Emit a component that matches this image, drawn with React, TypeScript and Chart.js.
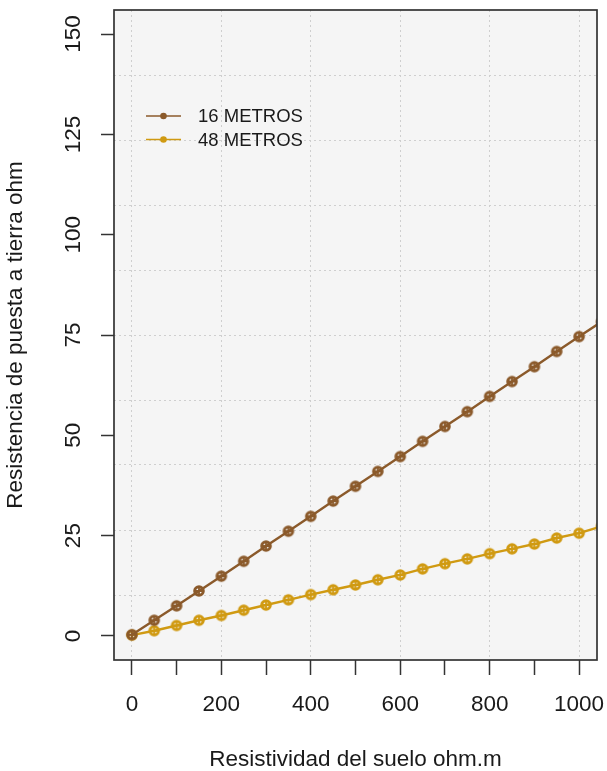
import React, { useEffect, useRef } from "react";
import { Chart, registerables } from "chart.js";

Chart.register(...registerables);

// ---- data ----
const resistivity = [0, 50, 100, 150, 200, 250, 300, 350, 400, 450, 500, 550, 600, 650, 700, 750, 800, 850, 900, 950, 1000, 1050];
const r16 = [0.3, 3.9, 7.5, 11.2, 14.9, 18.6, 22.4, 26.1, 29.8, 33.6, 37.3, 41.0, 44.7, 48.5, 52.2, 55.9, 59.7, 63.4, 67.1, 70.9, 74.6, 78.3];
const r48 = [0.2, 1.3, 2.6, 3.9, 5.1, 6.4, 7.7, 9.0, 10.3, 11.5, 12.7, 14.0, 15.2, 16.7, 18.0, 19.2, 20.5, 21.7, 22.9, 24.4, 25.6, 27.3];
const seriesLabels = ["16 METROS", "48 METROS"];
const seriesColors = ["#8B5A2B", "#D09A12"];
const xTickValues = [0, 100, 200, 300, 400, 500, 600, 700, 800, 900, 1000];
const xLabelStep = 200;
const yTickValues = [0, 25, 50, 75, 100, 125, 150];
const xRange = [-40, 1040];
const yRange = [-6, 156];
const yGridDivisions = 10;
const xTitle = "Resistividad del suelo ohm.m";
const yTitle = "Resistencia de puesta a tierra ohm";

const FONT = "'Liberation Sans', Arial, sans-serif";
const TEXT = "#1a1a1a";
const GRID = "#cfcfcf";
const AXIS = "#333333";

function makeMarker(color: string): HTMLCanvasElement {
  const c = document.createElement("canvas");
  c.width = 16;
  c.height = 16;
  const g = c.getContext("2d")!;
  g.strokeStyle = color;
  g.lineWidth = 3;
  g.beginPath();
  g.arc(8, 8, 4.3, 0, Math.PI * 2);
  g.stroke();
  g.lineWidth = 1.8;
  g.beginPath();
  g.moveTo(8, 3.5);
  g.lineTo(8, 12.5);
  g.moveTo(3.5, 8);
  g.lineTo(12.5, 8);
  g.stroke();
  return c;
}

const framePlugin = {
  id: "rframe",
  beforeDraw(chart: any) {
    const { ctx, chartArea } = chart;
    const { left, top, width, height } = chartArea;
    ctx.save();
    ctx.fillStyle = "#f5f5f5";
    ctx.fillRect(left, top, width, height);
    ctx.restore();
  },
  afterDraw(chart: any) {
    const { ctx, chartArea } = chart;
    const { left, top, right, bottom } = chartArea;
    ctx.save();
    ctx.strokeStyle = AXIS;
    ctx.lineWidth = 1.7;
    ctx.strokeRect(left, top, right - left, bottom - top);

    // legend (inside, top-left)
    const lx = left + 32;
    const ly = top + 106;
    const rowH = 23.5;
    chart.data.datasets.forEach((ds: any, i: number) => {
      const y = ly + i * rowH;
      ctx.strokeStyle = ds.borderColor;
      ctx.lineWidth = 1.7;
      ctx.beginPath();
      ctx.moveTo(lx, y);
      ctx.lineTo(lx + 35, y);
      ctx.stroke();
      ctx.fillStyle = ds.borderColor;
      ctx.beginPath();
      ctx.arc(lx + 17.5, y, 3.3, 0, Math.PI * 2);
      ctx.fill();
      ctx.fillStyle = TEXT;
      ctx.font = `18.5px ${FONT}`;
      ctx.textAlign = "left";
      ctx.textBaseline = "middle";
      ctx.fillText(ds.label, lx + 52, y + 1);
    });
    ctx.restore();
  },
};

export default function App() {
  const ref = useRef<HTMLCanvasElement | null>(null);

  useEffect(() => {
    document.body.style.margin = "0";
    const canvas = ref.current!;
    const datasets = [r16, r48].map((vals, i) => ({
      label: seriesLabels[i],
      data: resistivity.map((x, j) => ({ x, y: vals[j] })),
      borderColor: seriesColors[i],
      backgroundColor: seriesColors[i],
      borderWidth: 2.4,
      pointStyle: makeMarker(seriesColors[i]),
      pointRadius: 5,
      clip: 0,
      tension: 0,
    }));

    const chart = new Chart(canvas, {
      type: "line",
      data: { datasets },
      plugins: [framePlugin],
      options: {
        responsive: false,
        animation: false,
        devicePixelRatio: 1,
        layout: { padding: { left: 0, right: 10, top: 10, bottom: 0 } },
        plugins: { legend: { display: false }, tooltip: { enabled: false } },
        scales: {
          x: {
            type: "linear",
            position: "bottom",
            min: xRange[0],
            max: xRange[1],
            afterBuildTicks: (s: any) => {
              s.ticks = xTickValues.map((v) => ({ value: v }));
            },
            afterFit: (s: any) => {
              s.height = 111;
              s.paddingLeft = 0;
              s.paddingRight = 0;
            },
            ticks: {
              autoSkip: false,
              maxRotation: 0,
              minRotation: 0,
              padding: 16,
              color: TEXT,
              font: { size: 22.5, family: FONT },
              callback: (v: any) => (Number(v) % xLabelStep === 0 ? String(v) : ""),
            },
            grid: {
              color: (c: any) =>
                c.tick && c.tick.value % xLabelStep === 0 ? GRID : "rgba(0,0,0,0)",
              lineWidth: 1,
              drawTicks: true,
              tickLength: 15,
              tickColor: AXIS,
              tickWidth: 1.5,
            },
            border: { display: false, dash: [2, 3] },
            title: {
              display: true,
              text: xTitle,
              color: TEXT,
              font: { size: 22.5, family: FONT, lineHeight: 1 },
              padding: { top: 0, bottom: 0 },
            },
          },
          y: {
            type: "linear",
            position: "left",
            min: yRange[0],
            max: yRange[1],
            afterBuildTicks: (s: any) => {
              s.ticks = yTickValues.map((v) => ({ value: v }));
            },
            afterFit: (s: any) => {
              s.width = 114;
              s.paddingTop = 0;
              s.paddingBottom = 0;
            },
            ticks: {
              minRotation: 90,
              maxRotation: 90,
              crossAlign: "center",
              padding: 8,
              color: TEXT,
              font: { size: 22.5, family: FONT },
            },
            grid: {
              drawOnChartArea: false,
              drawTicks: true,
              tickLength: 13,
              tickColor: AXIS,
              tickWidth: 1.5,
            },
            border: { display: false },
            title: {
              display: true,
              text: yTitle,
              color: TEXT,
              font: { size: 22.5, family: FONT, lineHeight: 1 },
              padding: { top: 5, bottom: 0 },
            },
          },
          yGrid: {
            type: "linear",
            position: "right",
            min: yRange[0],
            max: yRange[1],
            afterBuildTicks: (s: any) => {
              const step = (yRange[1] - yRange[0]) / yGridDivisions;
              const t = [];
              for (let k = 1; k < yGridDivisions; k++) t.push({ value: yRange[0] + k * step });
              s.ticks = t;
            },
            afterFit: (s: any) => {
              s.width = 0;
              s.paddingTop = 0;
              s.paddingBottom = 0;
            },
            ticks: { display: false },
            grid: { drawOnChartArea: true, drawTicks: false, color: GRID, lineWidth: 1 },
            border: { display: false, dash: [2, 3] },
          },
        },
      } as any,
    });
    return () => chart.destroy();
  }, []);

  return (
    <canvas
      ref={ref}
      width={607}
      height={771}
      style={{ display: "block", width: 607, height: 771 }}
    />
  );
}
